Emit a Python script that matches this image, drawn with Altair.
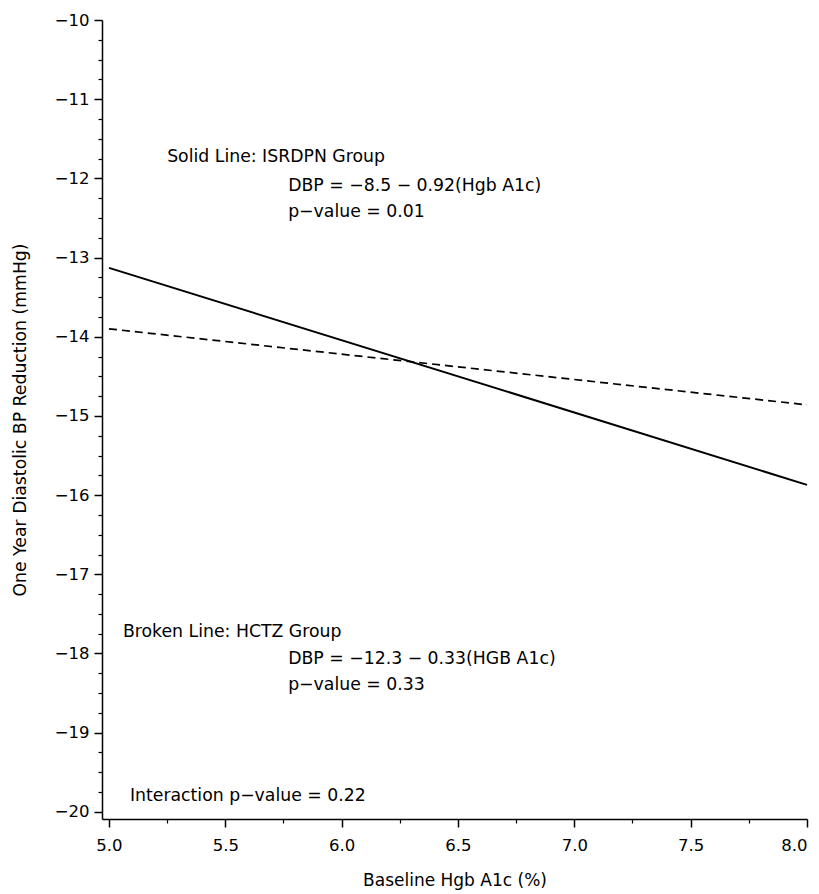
import altair as alt
import pandas as pd

# Data
hgb = [5.0, 8.0]
solid_dbp = [-13.13, -15.87]
broken_dbp = [-13.90, -14.86]

x_major = [5.0, 5.5, 6.0, 6.5, 7.0, 7.5, 8.0]
x_minor = [5.25, 5.75, 6.25, 6.75, 7.25, 7.75]
y_major = [-10, -11, -12, -13, -14, -15, -16, -17, -18, -19, -20]
y_minor = [v - q for v in range(-10, -20, -1) for q in (0.25, 0.5, 0.75)]

ann_x = [5.25, 5.77, 5.77, 5.06, 5.77, 5.77, 5.09]
ann_y = [-11.73, -12.10, -12.43, -17.73, -18.07, -18.40, -19.80]
ann_text = [
    "Solid Line: ISRDPN Group",
    "DBP = \u22128.5 \u2212 0.92(Hgb A1c)",
    "p\u2212value = 0.01",
    "Broken Line: HCTZ Group",
    "DBP = \u221212.3 \u2212 0.33(HGB A1c)",
    "p\u2212value = 0.33",
    "Interaction p\u2212value = 0.22",
]

FONT = "DejaVu Sans"

solid_df = pd.DataFrame({"hgb": hgb, "dbp": solid_dbp})
broken_df = pd.DataFrame({"hgb": hgb, "dbp": broken_dbp})
ann_df = pd.DataFrame({"x": ann_x, "y": ann_y, "text": ann_text})

xscale = alt.Scale(domain=[4.97, 8.0], nice=False, zero=False)
yscale = alt.Scale(domain=[-20.09, -10.0], nice=False, zero=False)

main_x_axis = alt.Axis(
    values=x_major, format=".1f", orient="bottom", grid=False,
    tickSize=8, tickWidth=1.5, tickColor="black", domainColor="black", domainWidth=1.5,
    labelFont=FONT, labelFontSize=16.5, labelColor="black", labelPadding=10,
    title="Baseline Hgb A1c (%)", titleFont=FONT, titleFontSize=17,
    titleFontWeight="normal", titleColor="black", titlePadding=19,
)
main_y_axis = alt.Axis(
    values=y_major, format="d", orient="left", grid=False,
    tickSize=8, tickWidth=1.5, tickColor="black", domainColor="black", domainWidth=1.5,
    labelFont=FONT, labelFontSize=16.5, labelColor="black", labelPadding=5,
    title="One Year Diastolic BP Reduction (mmHg)", titleFont=FONT, titleFontSize=17.3,
    titleFontWeight="normal", titleColor="black", titlePadding=25,
)
minor_x_axis = alt.Axis(
    values=x_minor, orient="bottom", grid=False, labels=False, domain=False,
    tickSize=4, tickWidth=1.2, tickColor="black", title=None,
)
minor_y_axis = alt.Axis(
    values=y_minor, orient="left", grid=False, labels=False, domain=False,
    tickSize=4, tickWidth=1.2, tickColor="black", title=None,
)

solid = alt.Chart(solid_df).mark_line(color="black", strokeWidth=2).encode(
    x=alt.X("hgb:Q", scale=xscale, axis=main_x_axis),
    y=alt.Y("dbp:Q", scale=yscale, axis=main_y_axis),
)
broken = alt.Chart(broken_df).mark_line(color="black", strokeWidth=1.7, strokeDash=[8, 5]).encode(
    x=alt.X("hgb:Q", scale=xscale, axis=minor_x_axis),
    y=alt.Y("dbp:Q", scale=yscale, axis=minor_y_axis),
)
text = alt.Chart(ann_df).mark_text(
    align="left", baseline="middle", font=FONT, fontSize=17.3, color="black"
).encode(
    x=alt.X("x:Q", scale=xscale, axis=None),
    y=alt.Y("y:Q", scale=yscale, axis=None),
    text="text:N",
)

chart = alt.layer(solid, broken, text).resolve_axis(
    x="independent", y="independent"
).properties(
    width=705, height=799,
    autosize=alt.AutoSizeParams(type="none"),
    padding={"left": 102, "top": 20, "right": 12, "bottom": 75},
    background="white",
).configure_view(stroke=None)

chart.save("out.html", embed_options={"renderer": "svg", "actions": False})
